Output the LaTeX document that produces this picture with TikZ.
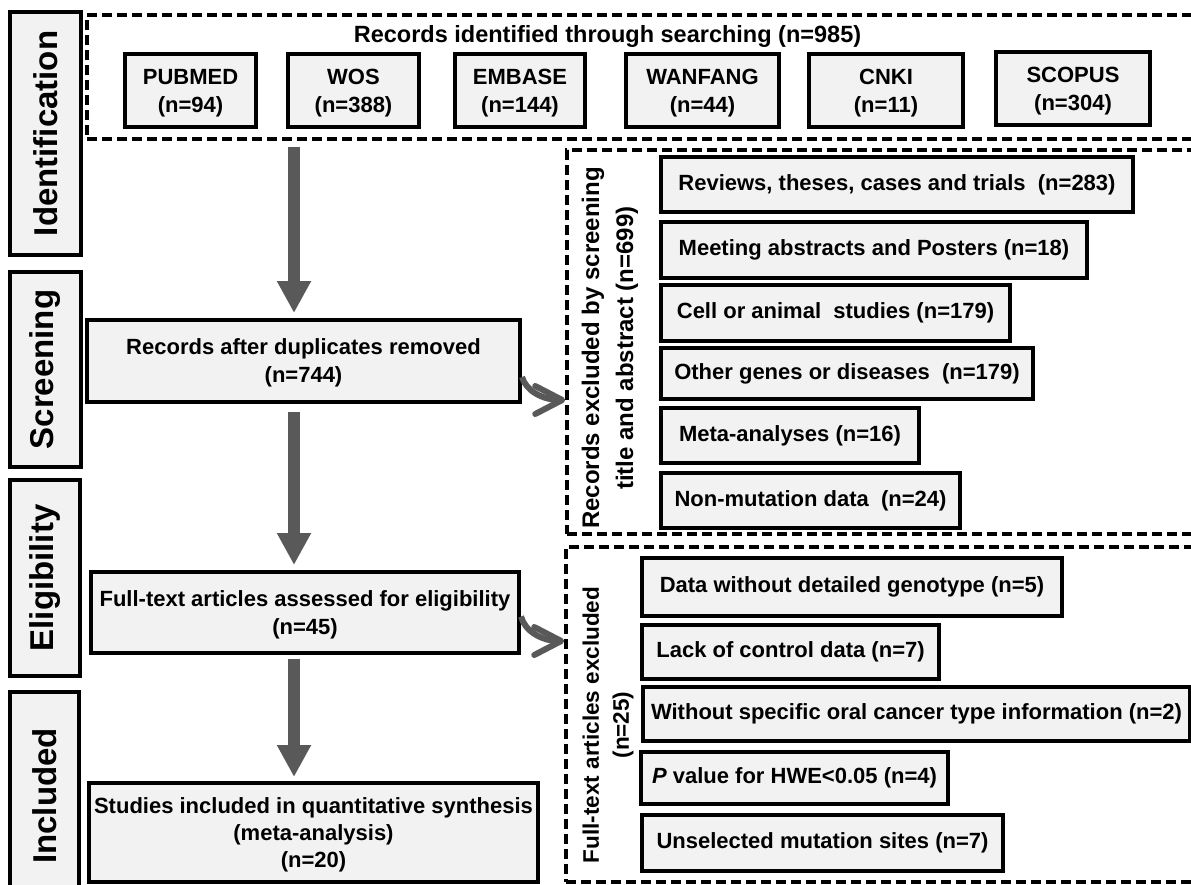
\documentclass[tikz,border=0pt]{standalone}
\usepackage{fontspec}
\setmainfont{Liberation Sans}
\usetikzlibrary{arrows.meta,positioning,calc}
\definecolor{boxfill}{HTML}{F2F2F2}
\definecolor{arrowgray}{HTML}{595959}

\begin{document}
\begin{tikzpicture}[x=1pt, y=-1pt,
  stage/.style={draw, line width=4pt, fill=boxfill, rotate=90, inner sep=0pt,
             font=\bfseries\fontsize{33}{40}\selectfont},
  src/.style={draw, line width=4pt, fill=boxfill, align=center, inner sep=0pt,
             text depth=0pt, font=\bfseries\fontsize{22}{28}\selectfont},
  excl/.style={draw, line width=4pt, fill=boxfill, anchor=west, inner sep=0pt,
             font=\bfseries\fontsize{22}{27}\selectfont},
  grp/.style={draw, line width=3.5pt, dash pattern=on 10pt off 5pt, inner sep=0pt},
  sidetxt/.style={rotate=90, align=center, inner sep=0pt},
  flow/.style={line width=12pt, arrowgray, -{Triangle[length=32pt,width=32pt]}},
  exarrow/.style={line width=6pt, arrowgray, -{Straight Barb[length=27pt,width=28pt,round]}}
]
\useasboundingbox (0,0) rectangle (1191,884);
\clip (0,0) rectangle (1191,884);

% ======= Stages =======
\node[stage, minimum width=243pt, minimum height=71pt] (ident) at (45.5,133.5) {Identification};
\node[stage, minimum width=195pt, minimum height=71pt] (scr)   at (45.5,369.5) {Screening};
\node[stage, minimum width=196pt, minimum height=70pt] (elig)  at (45,578)     {Eligibility};
\node[stage, minimum width=208pt, minimum height=69pt] (incl)  at (44.5,796)   {Included};

% ======= Dashed groups =======
\node[grp, minimum width=1113pt, minimum height=124pt] (idbox)  at (643.5,77)  {};
\node[grp, minimum width=633pt,  minimum height=384pt] (scrbox) at (883.5,342) {};
\node[grp, minimum width=634pt,  minimum height=335pt] (elbox)  at (883,714.5) {};

% ======= Identification =======
\node[anchor=base, inner sep=0pt, font=\bfseries\fontsize{23.5}{28}\selectfont] (idtitle)
  at (607.5,42) {Records identified through searching (n=985)};
\node[src, minimum width=131pt, minimum height=73pt] (pub)  at (190.5,90.5) {PUBMED\\(n=94)};
\node[src, minimum width=131pt, minimum height=73pt] (wos)  at (353.5,90.5) {WOS\\(n=388)};
\node[src, minimum width=130pt, minimum height=73pt] (emb)  at (520,90.5)   {EMBASE\\(n=144)};
\node[src, minimum width=153pt, minimum height=73pt] (wan)  at (702.5,90.5) {WANFANG\\(n=44)};
\node[src, minimum width=154pt, minimum height=73pt] (cnki) at (886,90.5)   {CNKI\\(n=11)};
\node[src, minimum width=154pt, minimum height=73pt] (sco)  at (1073,88.5)  {SCOPUS\\(n=304)};

% ======= Main column =======
\node[src, minimum width=433pt, minimum height=82pt] (recs) at (303.5,361)  {Records after duplicates removed\\(n=744)};
\node[src, minimum width=428pt, minimum height=81pt] (full) at (305,612.5)  {Full-text articles assessed for eligibility\\(n=45)};
\node[src, minimum width=449pt, minimum height=99pt, font=\bfseries\fontsize{22}{27}\selectfont] (stud) at (313.5,832.5)
  {Studies included in quantitative synthesis\\(meta-analysis)\\(n=20)};

% ======= Screening exclusions =======
\node[sidetxt, font=\bfseries\fontsize{24}{34}\selectfont] (scrlbl) at (610,348)
  {Records excluded by screening\\title and abstract (n=699)};
\node[excl, minimum width=472pt, minimum height=55pt] (rev)  at (659,184.5) {Reviews, theses, cases and trials \ (n=283)};
\node[excl, minimum width=426pt, minimum height=56pt] (meet) at (659,250)   {Meeting abstracts and Posters (n=18)};
\node[excl, minimum width=349pt, minimum height=56pt] (cell) at (659,313)   {Cell or animal \ studies (n=179)};
\node[excl, minimum width=372pt, minimum height=51pt] (oth)  at (659,373.5) {Other genes or diseases \ (n=179)};
\node[excl, minimum width=258pt, minimum height=55pt] (meta) at (659,435.5) {Meta-analyses (n=16)};
\node[excl, minimum width=299pt, minimum height=55pt] (nonm) at (659,500.5) {Non-mutation data \ (n=24)};

% ======= Full-text exclusions =======
\node[sidetxt, font=\bfseries\fontsize{22.5}{30}\selectfont] (ellbl) at (608,725)
  {Full-text articles excluded\\(n=25)};
\node[excl, minimum width=420pt, minimum height=58pt] (geno) at (640,587)   {Data without detailed genotype (n=5)};
\node[excl, minimum width=297pt, minimum height=54pt] (ctrl) at (640,652)   {Lack of control data (n=7)};
\node[excl, minimum width=547pt, minimum height=54pt] (oral) at (641,714)   {Without specific oral cancer type information (n=2)};
\node[excl, minimum width=307pt, minimum height=52pt] (hwe)  at (639,778)   {\textit{P} value for HWE<0.05 (n=4)};
\node[excl, minimum width=361pt, minimum height=56pt] (site) at (640,843)   {Unselected mutation sites (n=7)};

% ======= Flow =======
\coordinate (ax) at (294,0);
\draw[flow, shorten <=6pt, shorten >=5pt] (ax |- idbox.south) -- (ax |- recs.north);
\draw[flow, shorten <=8pt, shorten >=5pt] (ax |- recs.south) -- (ax |- full.north);
\draw[flow, shorten <=4pt, shorten >=4pt] (ax |- full.south) -- (ax |- stud.north);

% ======= Exclusion arrows =======
\draw[exarrow] ($(recs.east)+(0,16)$) .. controls +(4,14) and +(-22,0) .. ($(recs.east -| scrbox.west)+(0,39)$);
\draw[exarrow] ($(full.east)+(0,4)$) .. controls +(4,15) and +(-22,0) .. ($(full.east -| elbox.west)+(0,28.5)$);

\end{tikzpicture}
\end{document}
